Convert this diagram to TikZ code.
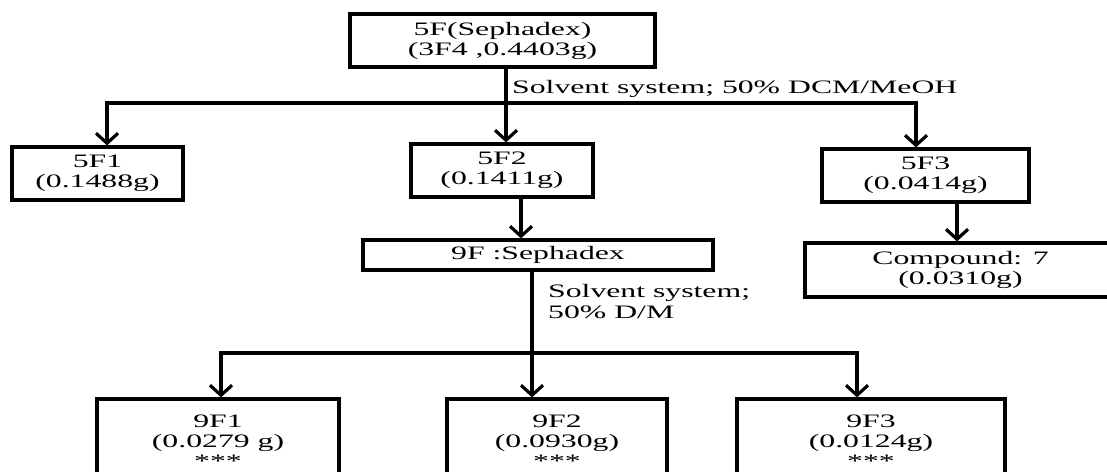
\documentclass[tikz,border=0pt]{standalone}
\usepackage{fontspec}
\setmainfont{Liberation Serif}[FakeStretch=1.67]
\usetikzlibrary{arrows.meta}

\tikzset{
  frac/.style={draw, line width=3.2pt, align=center, inner sep=0pt, font=\fontsize{19}{20}\selectfont},
  flow/.style={line width=3.2pt},
  arr/.style={flow, -{Straight Barb[length=10pt,width=22pt]}},
  note/.style={inner sep=0pt, align=left, font=\fontsize{19}{21}\selectfont}
}

\begin{document}
\begin{tikzpicture}[x=1pt,y=-1pt]
            \useasboundingbox (0,0) rectangle (1107,471);

            % first column
            \node[frac, minimum width=305pt, minimum height=53pt] (5F) at (502.5,40.5) {5F(Sephadex)\\(3F4 ,0.4403g)};
            \node[frac, minimum width=171pt, minimum height=53pt] (5F1) at (97.5,173.5) {5F1\\(0.1488g)};
            \node[frac, minimum width=182pt, minimum height=53pt] (5F2) at (502,170.5) {5F2\\(0.1411g)};
            \node[frac, minimum width=207pt, minimum height=53pt] (5F3) at (925.5,175.5) {5F3\\(0.0414g)};
            \node[frac, minimum width=311pt, minimum height=54pt] (C7) at (960.5,270) {Compound: 7\\(0.0310g)};
            \node[frac, minimum width=350pt, minimum height=30pt] (9F) at (538,255) {9F :Sephadex};

            % second column
            \node[frac, minimum width=242pt, minimum height=84pt] (9F1) at (218,441) {9F1\\(0.0279 g)\\***};
            \node[frac, minimum width=220pt, minimum height=84pt] (9F2) at (557,441) {9F2\\(0.0930g)\\***};
            \node[frac, minimum width=268pt, minimum height=84pt] (9F3) at (871,441) {9F3\\(0.0124g)\\***};

            \node[note, anchor=base west] (s1) at (512,93) {Solvent system; 50\% DCM/MeOH};
            \node[note, anchor=north west] (s2) at (548,284) {Solvent system;\\50\% D/M};

            \coordinate (t0) at (506,103); \coordinate (tL) at (107,103); \coordinate (tR) at (916,103);
            \coordinate (m1) at (521,0); \coordinate (m2) at (957,0);
            \coordinate (b0) at (532,353); \coordinate (bL) at (221,353); \coordinate (bR) at (857,353);

            \draw[arr] (5F.south -| t0) to (5F2.north -| t0); \draw[flow, line cap=rect] (tL) to (tR);
            \draw[arr] (tL) to (tL |- 5F1.north); \draw[arr] (tR) to (tR |- 5F3.north);
            \draw[arr] (5F2.south -| m1) to (9F.north -| m1); \draw[arr] (5F3.south -| m2) to (C7.north -| m2);
            \draw[arr] (9F.south -| b0) to (9F2.north -| b0); \draw[flow, line cap=rect] (bL) to (bR);
            \draw[arr] (bL) to (bL |- 9F1.north); \draw[arr] (bR) to (bR |- 9F3.north);
        \end{tikzpicture}
\end{document}
